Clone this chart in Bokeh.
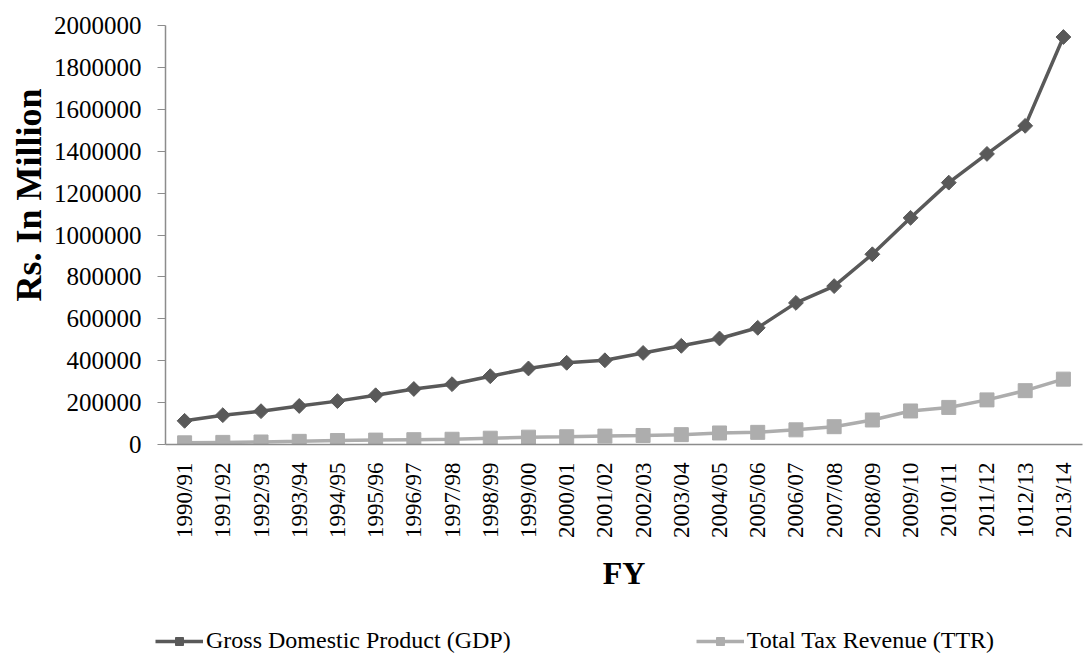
import math
from bokeh.plotting import figure
from bokeh.layouts import column
from bokeh.models import (ColumnDataSource, FactorRange, Range1d, FixedTicker,
                          BasicTickFormatter, Legend, LegendItem, Title)
from bokeh.embed import file_html
from bokeh.resources import INLINE

years = ["1990/91", "1991/92", "1992/93", "1993/94", "1994/95", "1995/96",
         "1996/97", "1997/98", "1998/99", "1999/00", "2000/01", "2001/02",
         "2002/03", "2003/04", "2004/05", "2005/06", "2006/07", "2007/08",
         "2008/09", "2009/10", "2010/11", "2011/12", "1012/13", "2013/14"]
gdp = [113000, 140000, 159000, 184000, 207000, 235000, 265000, 288000,
       326000, 363000, 390000, 402000, 437000, 471000, 506000, 557000,
       676000, 756000, 908000, 1082000, 1250000, 1387000, 1521000, 1945000]
ttr = [8000, 10000, 12000, 15000, 19000, 21000, 23000, 25000,
       30000, 35000, 37000, 40000, 43000, 47000, 55000, 58000,
       70000, 85000, 117000, 160000, 177000, 213000, 257000, 312000]
y_ticks = [0, 200000, 400000, 600000, 800000, 1000000, 1200000, 1400000,
           1600000, 1800000, 2000000]
series_names = ["Gross Domestic Product (GDP)", "Total Tax Revenue (TTR)"]

FONT = "Liberation Serif"
GDP_C = "#595959"
TTR_C = "#ADADAD"
AXIS_C = "#8C8C8C"

src = ColumnDataSource(dict(x=years, gdp=gdp, ttr=ttr))

TOP, FRAME_H, MAIN_H = 25, 419, 610

p = figure(width=1085, height=MAIN_H, frame_width=917, frame_height=FRAME_H,
           x_range=FactorRange(*years, range_padding=0),
           y_range=Range1d(0, 2000000), output_backend="svg",
           toolbar_location=None, min_border_left=165, min_border_right=3,
           min_border_top=TOP, min_border_bottom=MAIN_H - TOP - FRAME_H)
p.outline_line_color = None
p.xgrid.grid_line_color = None
p.ygrid.grid_line_color = None
p.background_fill_color = "white"
p.border_fill_color = "white"


def draw(fig):
    a = fig.line("x", "gdp", source=src, line_color=GDP_C, line_width=3.5)
    b = fig.scatter("x", "gdp", source=src, marker="square", angle=math.pi / 4,
                    size=10.5, fill_color=GDP_C, line_color=GDP_C)
    c = fig.line("x", "ttr", source=src, line_color=TTR_C, line_width=3.5)
    d = fig.scatter("x", "ttr", source=src, marker="square", size=14,
                    fill_color=TTR_C, line_color=TTR_C)
    return a, b, c, d


draw(p)

# y axis
ya = p.yaxis[0]
ya.ticker = FixedTicker(ticks=y_ticks)
ya.formatter = BasicTickFormatter(use_scientific=False)
ya.minor_tick_line_color = None
ya.major_tick_in = 0
ya.major_tick_out = 8
ya.major_tick_line_color = AXIS_C
ya.axis_line_color = AXIS_C
ya.axis_line_width = 1.5
ya.major_label_standoff = 16
ya.major_label_text_font = FONT
ya.major_label_text_font_size = "25px"
ya.major_label_text_color = "black"

ytitle = Title(text="Rs. In Million", align="left", offset=143, standoff=4,
               text_font=FONT, text_font_style="bold", text_font_size="36px",
               text_color="black")
p.add_layout(ytitle, "left")

# x axis
xa = p.xaxis[0]
xa.major_tick_in = 0
xa.major_tick_out = 0
xa.axis_line_color = AXIS_C
xa.axis_line_width = 1.5
xa.major_label_orientation = math.pi / 2
xa.major_label_standoff = 18
xa.major_label_text_font = FONT
xa.major_label_text_font_size = "23px"
xa.major_label_text_color = "black"
xa.axis_label = "FY"
xa.axis_label_text_font = FONT
xa.axis_label_text_font_style = "bold"
xa.axis_label_text_font_size = "32px"
xa.axis_label_text_color = "black"
xa.axis_label_standoff = 14

# legend strip (series drawn outside its visible range; only the legend shows)
lg = figure(width=1085, height=662 - MAIN_H, frame_width=1085,
            frame_height=662 - MAIN_H,
            x_range=FactorRange(*years, range_padding=0),
            y_range=Range1d(-20, -10), output_backend="svg",
            toolbar_location=None, min_border=0)
lg.axis.visible = False
lg.xgrid.grid_line_color = None
lg.ygrid.grid_line_color = None
lg.outline_line_color = None
a, b, c, d = draw(lg)
legend = Legend(items=[
    LegendItem(label=series_names[0], renderers=[a, b]),
    LegendItem(label=series_names[1], renderers=[c, d]),
], orientation="horizontal", location=(155, 8))
legend.label_text_font = FONT
legend.label_text_font_size = "24px"
legend.label_text_color = "black"
legend.glyph_width = 48
legend.glyph_height = 20
legend.label_standoff = 3
legend.spacing = 185
legend.padding = 2
legend.margin = 0
legend.border_line_color = None
legend.background_fill_alpha = 0
lg.add_layout(legend, "center")

open("out.html", "w").write(file_html(column(p, lg, spacing=0), INLINE))
